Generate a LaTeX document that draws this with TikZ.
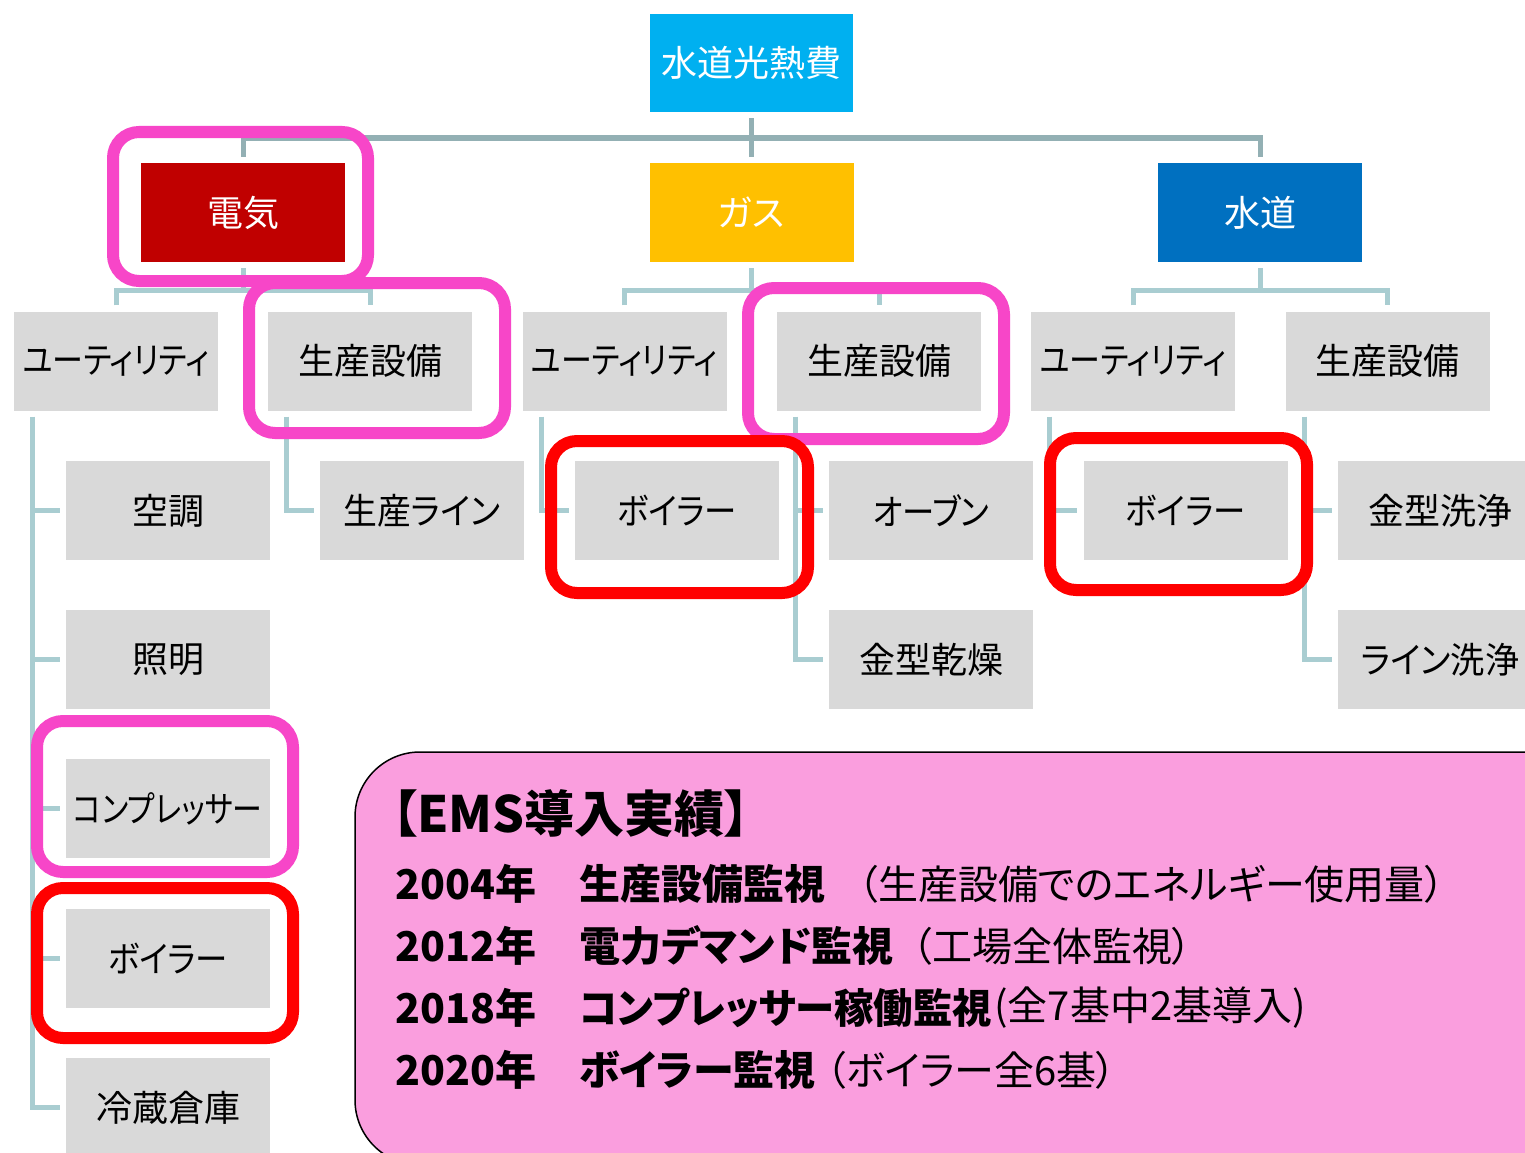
\documentclass[tikz,border=0pt]{standalone}
\usepackage{fontspec}
\usepackage{graphicx}
\setmainfont{Noto Sans CJK JP}[RawFeature=+palt]
\usetikzlibrary{calc}
\definecolor{ccyan}{HTML}{00B0F0}
\definecolor{cred}{HTML}{C00000}
\definecolor{cyel}{HTML}{FFC000}
\definecolor{cblue}{HTML}{0070C0}
\definecolor{cgrey}{HTML}{D9D9D9}
\definecolor{hpink}{HTML}{F746C8}
\definecolor{hred}{HTML}{FF0000}
\definecolor{boxpink}{HTML}{FA9EDE}
\definecolor{ctop}{HTML}{93B0B4}
\definecolor{cconn}{HTML}{A9CDD1}
\newcommand\narrowtext[2]{\scalebox{#1}[1]{#2}}
\begin{document}
\begin{tikzpicture}[x=1pt,y=-1pt,
  box/.style={minimum width=204pt, minimum height=99pt, inner sep=0pt, font=\fontsize{36}{40}\selectfont},
  gbox/.style={box, fill=cgrey, text=black},
  cbox/.style={box, text=white},
  topc/.style={draw=ctop, line width=5pt},
  conn/.style={draw=cconn, line width=5pt},
  hlpink/.style={draw=hpink, line width=12pt, rounded corners=26pt},
  hlred/.style={draw=hred, line width=12pt, rounded corners=26pt},
  txt/.style={anchor=west, inner sep=0pt, text=black},
  yr/.style={txt, font=\fontsize{41}{44}\selectfont\bfseries},
  reg/.style={txt, font=\fontsize{40}{44}\selectfont}]
\useasboundingbox (0,0) rectangle (1525,1153);
\clip (0,0) rectangle (1525,1153);
\fill[white] (0,0) rectangle (1525,1153);

% level 0 and 1
\node[cbox, fill=ccyan, minimum width=203pt, minimum height=98pt] (root) at (751.5,63) {水道光熱費};
\node[cbox, fill=cred] (den) at (243,212.5) {電気};
\node[cbox, fill=cyel] (gas) at (751.5,212.5) {ガス};
\node[cbox, fill=cblue] (sui) at (1260,212.5) {水道};

% level 2
\node[gbox] (u1) at (116,361) {\narrowtext{0.86}{ユーティリティ}};
\node[gbox] (p1) at (370,361) {生産設備};
\node[gbox] (u2) at (624.5,361) {\narrowtext{0.86}{ユーティリティ}};
\node[gbox] (p2) at (879,361) {生産設備};
\node[gbox] (u3) at (1133,361) {\narrowtext{0.86}{ユーティリティ}};
\node[gbox] (p3) at (1387.5,361) {生産設備};

% level 3+
\node[gbox] (c1) at (168,510.5) {空調};
\node[gbox] (c2) at (422,510.5) {\narrowtext{0.94}{生産ライン}};
\node[gbox] (c3) at (677,510.5) {\narrowtext{0.9}{ボイラー}};
\node[gbox] (c4) at (931,510.5) {\narrowtext{0.9}{オーブン}};
\node[gbox] (c5) at (1185.5,510.5) {\narrowtext{0.9}{ボイラー}};
\node[gbox] (c6) at (1440,510.5) {金型洗浄};
\node[gbox] (d1) at (168,659.5) {照明};
\node[gbox] (d4) at (931,659.5) {金型乾燥};
\node[gbox] (d6) at (1440,659.5) {\narrowtext{0.95}{ライン洗浄}};
\node[gbox] (e1) at (168,808.5) {\narrowtext{0.83}{コンプレッサー}};
\node[gbox] (f1) at (168,958.5) {\narrowtext{0.9}{ボイラー}};
\node[gbox] (g1) at (168,1107.5) {冷蔵倉庫};

% top connectors
\coordinate (tj) at (751.5,138);
\draw[topc] ([yshift=-6pt]root.south) -- ([yshift=6pt]gas.north);
\draw[topc] ([yshift=6pt]den.north) |- (tj) -| ([yshift=6pt]sui.north);

% level 1 -> 2 connectors
\foreach \pn/\a/\b in {den/u1/p1, gas/u2/p2, sui/u3/p3}{
  \coordinate (j\pn) at ($(\pn.south)+(0,28)$);
  \draw[conn] ([yshift=-6pt]\pn.south) -- (j\pn);
  \draw[conn] ([yshift=6pt]\a.north) |- (j\pn) -| ([yshift=6pt]\b.north);
}

% level 2 -> 3 connectors
\foreach \pn/\last in {u1/g1, p1/c2, u2/c3, p2/d4, u3/c5, p3/d6}{
  \coordinate (t\pn) at ([xshift=19pt,yshift=-6pt]\pn.south west);
  \draw[conn] (t\pn) |- ([xshift=-6pt]\last.west);
}
\foreach \pn/\ch in {u1/c1, u1/d1, u1/e1, u1/f1, p2/c4, p3/c6}{
  \draw[conn] ([xshift=-6pt]\ch.west) -- (\ch.west -| t\pn);
}

% highlights
\draw[hlpink] (113,132) rectangle (368,281);
\draw[hlpink] (249,283) rectangle (505,433);
\draw[hlpink] (748,288) rectangle (1004,439);
\draw[hlpink] (37,721) rectangle (293,872);
\draw[hlred] (551,441) rectangle (808,593);
\draw[hlred] (1050,438) rectangle (1307,590);
\draw[hlred] (37,888) rectangle (293,1038);

% info box
\draw[fill=boxpink, draw=black, line width=1.5pt, rounded corners=65pt] (355,752) rectangle (1620,1165);
\node[txt, font=\fontsize{50}{54}\selectfont\bfseries] (ems) at (392,814) {【EMS導入実績】};
\node[yr] (y1) at (395,884) {2004年};
\node[yr] (b1) at (579,884) {生産設備監視};
\node[reg] (r1) at (858,884) {（生産設備でのエネルギー使用量）};
\node[yr] (y2) at (395,946) {2012年};
\node[yr] (b2) at (579,946) {電力デマンド監視};
\node[reg] (r2) at (912,946) {（工場全体監視）};
\node[yr] (y3) at (395,1008) {2018年};
\node[yr] (b3) at (579,1008) {\narrowtext{0.96}{コンプレッサー稼働監視}};
\node[reg, anchor=west] (r3) at ([xshift=2pt]b3.east) {(全7基中2基導入)};
\node[yr] (y4) at (395,1070) {2020年};
\node[yr] (b4) at (579,1070) {ボイラー監視};
\node[reg] (r4) at (826,1070) {（ボイラー全6基）};
\end{tikzpicture}
\end{document}
